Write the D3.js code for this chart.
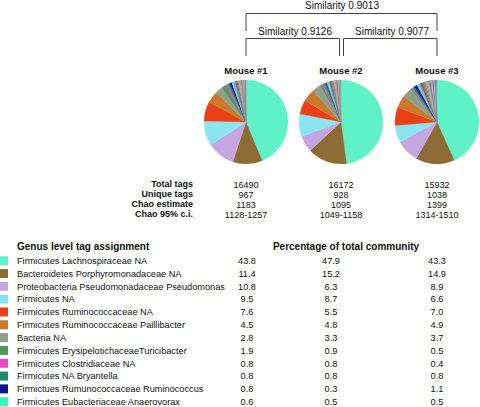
<!DOCTYPE html>
<html><head><meta charset="utf-8">
<script src="https://cdn.jsdelivr.net/npm/d3@7"></script>
<style>
html,body{margin:0;padding:0;background:#fff;}
svg{display:block;font-family:"Liberation Sans",Arial,sans-serif;}
</style></head>
<body><svg id="chart" width="480" height="407"></svg>
<script>
// ---- data ----
const mice = ["Mouse #1", "Mouse #2", "Mouse #3"];
const genera = [
  "Firmicutes Lachnospiraceae NA",
  "Bacteroidetes Porphyromonadaceae NA",
  "Proteobacteria Pseudomonadaceae Pseudomonas",
  "Firmicutes NA",
  "Firmicutes Ruminococcaceae NA",
  "Firmicutes Ruminococcaceae Paillibacter",
  "Bacteria NA",
  "Firmicutes ErysipelotichaceaeTuricibacter",
  "Firmicutes Clostridiaceae NA",
  "Firmicutes NA Bryantella",
  "Firmictues Rumunococcaceae Ruminococcus",
  "Firmicutes Eubacteriaceae Anaerovorax"
];
const generaColors = ["#5ef2c6","#8c6c34","#c6a6e0","#8ae6ee","#ea4016","#c97a2c","#8fa08a","#4f9a5a","#e04cc4","#1f8a6c","#12128c","#3cf4b6"];
const mouse1 = [43.8, 11.4, 10.8, 9.5, 7.6, 4.5, 2.8, 1.9, 0.8, 0.8, 0.8, 0.6];
const mouse2 = [47.9, 15.2, 6.3, 8.7, 5.5, 4.8, 3.3, 0.9, 0.8, 0.8, 0.3, 0.5];
const mouse3 = [43.3, 14.9, 8.9, 6.6, 7.0, 4.9, 3.7, 0.5, 0.4, 0.8, 1.1, 0.5];
// remaining minor genera
const other1 = [0.6, 0.5, 0.5, 0.4, 0.4, 0.4, 0.3, 0.3, 0.3, 0.3, 0.3, 0.2, 0.2, 0.2];
const other2 = [0.6, 0.5, 0.5, 0.5, 0.4, 0.4, 0.4, 0.3, 0.3, 0.3, 0.3, 0.2, 0.3];
const other3 = [0.8, 0.7, 0.7, 0.6, 0.6, 0.5, 0.5, 0.5, 0.4, 0.4, 0.4, 0.3, 0.3, 0.3, 0.4];
const otherColors = ["#7fb4ea","#c83a46","#3a9a44","#9a6ad0","#a0a0a0","#b0b060","#e07c8c","#4f7ec2","#70c0a0","#d0a060","#6a60a8","#c4c4c4","#80a080","#a06080","#60a8c8"];
const statLabels = ["Total tags", "Unique tags", "Chao estimate", "Chao 95% c.i."];
const stats1 = ["16490", "967", "1183", "1128-1257"];
const stats2 = ["16172", "928", "1095", "1049-1158"];
const stats3 = ["15932", "1038", "1399", "1314-1510"];
const similarities = ["Similarity 0.9013", "Similarity 0.9126", "Similarity 0.9077"];

// ---- drawing ----
const svg = d3.select("#chart");
const ink = "#111";
const colX = d3.scaleOrdinal().domain(mice).range([246, 341, 437]);
const pieY = 122, R = 42;

// similarity brackets
const br = svg.append("g").attr("stroke", "#444").attr("fill", "none").attr("stroke-width", 1);
const line = d3.line();
br.append("path").attr("d", line([[colX(mice[0]), 31], [colX(mice[0]), 13.5], [colX(mice[2]), 13.5], [colX(mice[2]), 31]]));
br.append("path").attr("d", line([[colX(mice[0]), 56], [colX(mice[0]), 38.5], [339.5, 38.5], [339.5, 56]]));
br.append("path").attr("d", line([[343.5, 56], [343.5, 38.5], [colX(mice[2]), 38.5], [colX(mice[2]), 56]]));
svg.append("text").attr("x", 342).attr("y", 9).attr("text-anchor", "middle").attr("font-size", 10).attr("fill", ink).text(similarities[0]);
svg.append("text").attr("x", 295).attr("y", 34.5).attr("text-anchor", "middle").attr("font-size", 10).attr("fill", ink).text(similarities[1]);
svg.append("text").attr("x", 392).attr("y", 34.5).attr("text-anchor", "middle").attr("font-size", 10).attr("fill", ink).text(similarities[2]);

// mouse titles
svg.selectAll("text.mouse").data(mice).join("text").attr("class", "mouse")
  .attr("x", d => colX(d)).attr("y", 74).attr("text-anchor", "middle")
  .attr("font-size", 9.5).attr("font-weight", "bold").attr("fill", ink).text(d => d);

// pies
const pie = d3.pie().sort(null).value(d => d.v);
const arc = d3.arc().innerRadius(0).outerRadius(R);
const series = [[mouse1, other1], [mouse2, other2], [mouse3, other3]];
series.forEach(([main, rest], i) => {
  const data = main.map((v, j) => ({v, c: generaColors[j]}))
    .concat(rest.map((v, j) => ({v, c: otherColors[j % otherColors.length]})));
  const g = svg.append("g").attr("transform", `translate(${colX(mice[i])},${pieY})`);
  g.selectAll("path").data(pie(data)).join("path")
    .attr("d", arc).attr("fill", d => d.data.c)
    .attr("stroke", d => d.data.c).attr("stroke-width", 0.3);
});

// stats table
const statY = d3.scalePoint().domain(statLabels).range([187, 217]);
svg.selectAll("text.slab").data(statLabels).join("text").attr("class", "slab")
  .attr("x", 193).attr("y", d => statY(d)).attr("text-anchor", "end")
  .attr("font-size", 9).attr("font-weight", "bold").attr("fill", ink).text(d => d);
[stats1, stats2, stats3].forEach((col, i) => {
  svg.selectAll("text.sv" + i).data(col).join("text").attr("class", "sv" + i)
    .attr("x", colX(mice[i])).attr("y", (d, k) => statY(statLabels[k]) + 0.5)
    .attr("text-anchor", "middle").attr("font-size", 9).attr("fill", ink).text(d => d);
});

// legend table
svg.append("text").attr("x", 17).attr("y", 250).attr("font-size", 10).attr("font-weight", "bold").attr("fill", ink).text("Genus level tag assignment");
svg.append("text").attr("x", 346).attr("y", 250).attr("text-anchor", "middle").attr("font-size", 10).attr("font-weight", "bold").attr("fill", ink).text("Percentage of total community");
const rowY = d3.scalePoint().domain(genera).range([260.7, 401.7]);
svg.selectAll("rect.sw").data(genera).join("rect").attr("class", "sw")
  .attr("x", 0).attr("y", d => rowY(d) - 4.5).attr("width", 8).attr("height", 9)
  .attr("fill", (d, i) => generaColors[i]);
svg.selectAll("text.gn").data(genera).join("text").attr("class", "gn")
  .attr("x", 17).attr("y", d => rowY(d) + 3.3).attr("font-size", 9.2).attr("fill", ink).text(d => d);
const pctX = [247, 331, 437];
[mouse1, mouse2, mouse3].forEach((col, i) => {
  svg.selectAll("text.pv" + i).data(col).join("text").attr("class", "pv" + i)
    .attr("x", pctX[i]).attr("y", (d, k) => rowY(genera[k]) + 3.3)
    .attr("text-anchor", "middle").attr("font-size", 9.2).attr("fill", ink).text(d => d.toFixed(1));
});
</script></body></html>
